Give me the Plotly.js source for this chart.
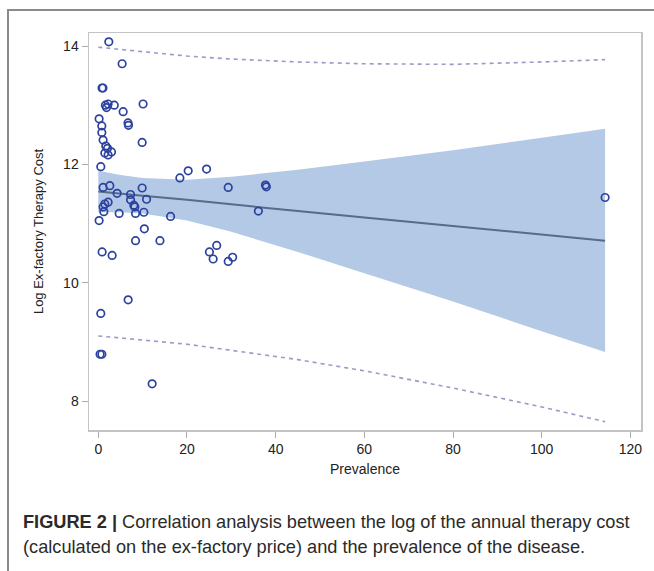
<!DOCTYPE html>
<html>
<head>
<meta charset="utf-8">
<script src="https://cdn.plot.ly/plotly-3.0.1.min.js"></script>
<style>
  html, body { margin: 0; padding: 0; background: #fff; }
  #wrap { position: relative; width: 654px; height: 571px; overflow: hidden; }
  #chart { position: absolute; left: 0; top: 0; width: 654px; height: 571px; }
  #frame { position: absolute; left: 7px; top: 9px; width: 660px; height: 580px;
           border-left: 2px solid #8a8a8a; border-top: 2px solid #8a8a8a; pointer-events: none; }
</style>
</head>
<body>
<div id="wrap">
  <div id="chart"></div>
  <div id="frame"></div>
</div>
<script>
// Observed data points: prevalence vs log ex-factory therapy cost
const prevalence = [
  2.37, 5.37, 0.85, 1.05, 1.6, 2.2, 3.6, 1.85, 10.1, 5.6, 0.18, 6.7, 6.8, 0.79, 0.79, 1.08,
  9.89, 1.69, 2.08, 1.47, 2.21, 2.98, 0.56, 20.27, 24.42, 18.4, 1.08, 2.6, 9.89, 4.24,
  7.27, 7.27, 10.88, 2.21, 1.47, 1.08, 1.24, 8.01, 8.24, 8.4, 10.27, 4.7, 0.18, 16.3,
  10.38, 8.4, 13.9, 0.86, 3.12, 25.06, 26.7, 25.9, 30.3, 29.3, 29.3, 37.7, 37.9, 36.1,
  6.73, 0.56, 0.4, 0.8, 12.14, 114.3
];
const logCost = [
  14.07, 13.70, 13.29, 13.29, 13.00, 13.02, 13.00, 12.96, 13.02, 12.89, 12.77, 12.70, 12.66, 12.65, 12.54, 12.41,
  12.37, 12.31, 12.27, 12.19, 12.16, 12.21, 11.96, 11.89, 11.92, 11.77, 11.61, 11.64, 11.60, 11.51,
  11.49, 11.40, 11.41, 11.36, 11.33, 11.28, 11.20, 11.31, 11.28, 11.17, 11.19, 11.17, 11.05, 11.12,
  10.91, 10.71, 10.71, 10.52, 10.46, 10.52, 10.63, 10.40, 10.43, 10.36, 11.61, 11.65, 11.62, 11.21,
  9.71, 9.48, 8.79, 8.79, 8.29, 11.44
];

// Fit line, confidence band and prediction limits
const fitX     = [0, 5, 10, 20, 30, 45, 60, 80, 100, 114.3];
const fitY     = [11.54, 11.50, 11.47, 11.40, 11.32, 11.21, 11.10, 10.96, 10.81, 10.71];
const ciUpper  = [11.89, 11.82, 11.77, 11.74, 11.79, 11.91, 12.05, 12.24, 12.45, 12.60];
const ciLower  = [11.19, 11.19, 11.17, 11.05, 10.86, 10.52, 10.16, 9.68, 9.18, 8.83];
const piUpper  = [13.98, 13.94, 13.90, 13.83, 13.78, 13.73, 13.70, 13.69, 13.73, 13.77];
const piLower  = [9.10, 9.07, 9.03, 8.96, 8.86, 8.70, 8.51, 8.22, 7.90, 7.65];

const xTicks = [0, 20, 40, 60, 80, 100, 120];
const yTicks = [8, 10, 12, 14];

const bandColor = 'rgb(179,201,230)';
const markerColor = 'rgb(44,66,158)';
const dashColor = 'rgb(155,155,198)';

const traces = [
  { x: fitX, y: ciLower, mode: 'lines', line: { width: 0 }, hoverinfo: 'skip', showlegend: false },
  { x: fitX, y: ciUpper, mode: 'lines', line: { width: 0 }, fill: 'tonexty', fillcolor: bandColor,
    hoverinfo: 'skip', showlegend: false },
  { x: fitX, y: fitY, mode: 'lines', line: { color: 'rgb(88,106,142)', width: 2 }, showlegend: false },
  { x: fitX, y: piUpper, mode: 'lines', line: { color: dashColor, width: 1.6, dash: '4px,4px' }, showlegend: false },
  { x: fitX, y: piLower, mode: 'lines', line: { color: dashColor, width: 1.6, dash: '4px,4px' }, showlegend: false },
  { x: prevalence, y: logCost, mode: 'markers', type: 'scatter',
    marker: { symbol: 'circle-open', size: 7.5, line: { color: markerColor, width: 1.7 }, color: markerColor },
    showlegend: false }
];

const captionFont = { size: 18.2, color: '#2a2a2a', family: 'Liberation Sans, Arial, sans-serif' };

const layout = {
  width: 654, height: 571,
  margin: { l: 89, r: 13, t: 33, b: 141 },
  paper_bgcolor: '#fff', plot_bgcolor: '#fff',
  font: { family: 'Liberation Sans, Arial, sans-serif', color: '#333' },
  xaxis: {
    range: [-2.1, 122.4], tickvals: xTicks, ticktext: xTicks.map(String),
    showgrid: false, zeroline: false, showline: true, mirror: true,
    linecolor: '#c4c4c4', linewidth: 1.5, ticks: 'outside', ticklen: 6, tickcolor: '#aaa',
    tickfont: { size: 14, color: '#222' },
    title: { text: 'Prevalence', font: { size: 14, color: '#222' }, standoff: 8 }
  },
  yaxis: {
    range: [7.51, 14.22], tickvals: yTicks, ticktext: yTicks.map(String),
    showgrid: false, zeroline: false, showline: true, mirror: true,
    linecolor: '#c4c4c4', linewidth: 1.5, ticks: 'outside', ticklen: 6, tickcolor: '#aaa',
    tickfont: { size: 14, color: '#222' },
    title: { text: 'Log Ex-factory Therapy Cost', font: { size: 13, color: '#222' }, standoff: 16 }
  },
  annotations: [
    { xref: 'paper', yref: 'paper', x: -0.123, y: -0.232, xanchor: 'left', yanchor: 'middle', showarrow: false,
      align: 'left',
      text: '<b>FIGURE 2 |</b> Correlation analysis between the log of the annual therapy cost',
      font: captionFont },
    { xref: 'paper', yref: 'paper', x: -0.123, y: -0.294, xanchor: 'left', yanchor: 'middle', showarrow: false,
      align: 'left',
      text: '(calculated on the ex-factory price) and the prevalence of the disease.',
      font: captionFont }
  ]
};

Plotly.newPlot('chart', traces, layout, { displayModeBar: false, staticPlot: true });
</script>
</body>
</html>
